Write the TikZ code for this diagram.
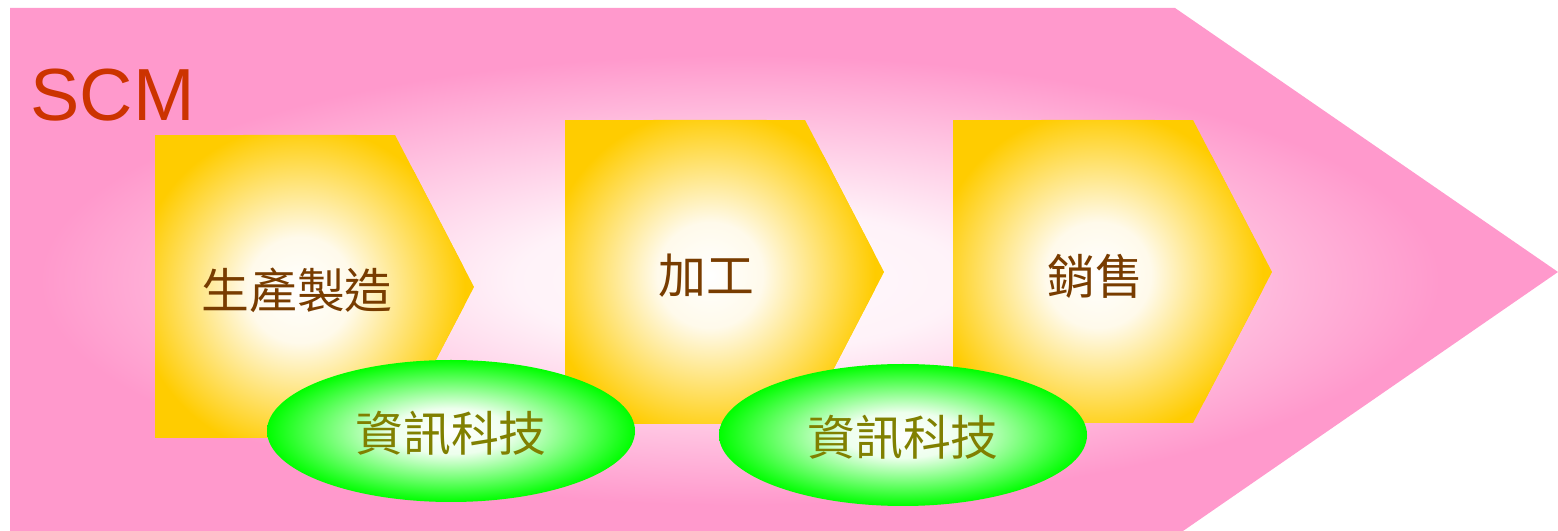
\documentclass[tikz,border=0pt]{standalone}
\usepackage{fontspec}
\setmainfont{Liberation Sans}
\newfontfamily\cjk{Noto Sans CJK TC}
\definecolor{pinkc}{RGB}{255,153,204}
\definecolor{goldc}{RGB}{255,204,0}
\definecolor{greenc}{RGB}{0,255,0}
\definecolor{scmred}{RGB}{204,51,0}
\definecolor{browntxt}{RGB}{120,60,0}
\definecolor{olivetxt}{RGB}{128,128,0}
\pgfdeclareradialshading{pinkglow}{\pgfpoint{0bp}{0bp}}{rgb(0bp)=(1,0.98,0.99);rgb(8bp)=(1,0.95,0.975);rgb(25bp)=(1,0.6,0.8);rgb(50bp)=(1,0.6,0.8)}
\pgfdeclareradialshading{goldglow}{\pgfpoint{0bp}{0bp}}{rgb(0bp)=(1,1,1);rgb(8bp)=(1,0.98,0.92);rgb(25bp)=(1,0.8,0);rgb(50bp)=(1,0.8,0)}
\pgfdeclareradialshading{greenglow}{\pgfpoint{0bp}{0bp}}{rgb(0bp)=(1,1,1);rgb(8bp)=(0.93,1,0.93);rgb(25bp)=(0,1,0);rgb(50bp)=(0,1,0)}
\tikzset{
  steplabel/.style={font=\cjk\fontsize{13.6}{16}\selectfont, text=browntxt, inner sep=0pt},
  itlabel/.style={font=\cjk\fontsize{13.6}{16}\selectfont, text=olivetxt, inner sep=0pt},
}
\begin{document}
\begin{tikzpicture}[x=0.01cm,y=-0.01cm]
\useasboundingbox (0,0) rectangle (1558,531);
% big arrow
\begin{scope}
\clip (10,8) -- (1175,8) -- (1558,272) -- (1183,531) -- (10,531) -- cycle;
\fill[pinkc] (0,0) rectangle (1558,531);
\shade[shading=pinkglow] (740,280) ellipse (700 and 225);
\end{scope}
\node[font=\fontsize{21}{24}\selectfont, text=scmred, anchor=base west, inner sep=0pt] (scm) at (30,121) {SCM};
% chevrons
\begin{scope}
\clip (155,135) -- (395,135) -- (474,287) -- (395,438) -- (155,438) -- cycle;
\fill[goldc] (155,135) rectangle (474,438);
\shade[shading=goldglow] (300,290) ellipse (165 and 165);
\end{scope}
\begin{scope}
\clip (565,120) -- (805,120) -- (884,272) -- (805,424) -- (565,424) -- cycle;
\fill[goldc] (565,120) rectangle (884,424);
\shade[shading=goldglow] (710,275) ellipse (165 and 165);
\end{scope}
\begin{scope}
\clip (953,120) -- (1193,120) -- (1272,272) -- (1193,423) -- (953,423) -- cycle;
\fill[goldc] (953,120) rectangle (1272,423);
\shade[shading=goldglow] (1098,275) ellipse (165 and 165);
\end{scope}
\node[steplabel] (s1) at (297,290) {生產製造};
\node[steplabel] (s2) at (706,276) {加工};
\node[steplabel] (s3) at (1095,276) {銷售};
% ellipses
\shade[shading=greenglow] (451,431) ellipse (184 and 71);
\shade[shading=greenglow] (903,435) ellipse (184 and 71);
\node[itlabel] (it1) at (451,433) {資訊科技};
\node[itlabel] (it2) at (903,437) {資訊科技};
\end{tikzpicture}
\end{document}
